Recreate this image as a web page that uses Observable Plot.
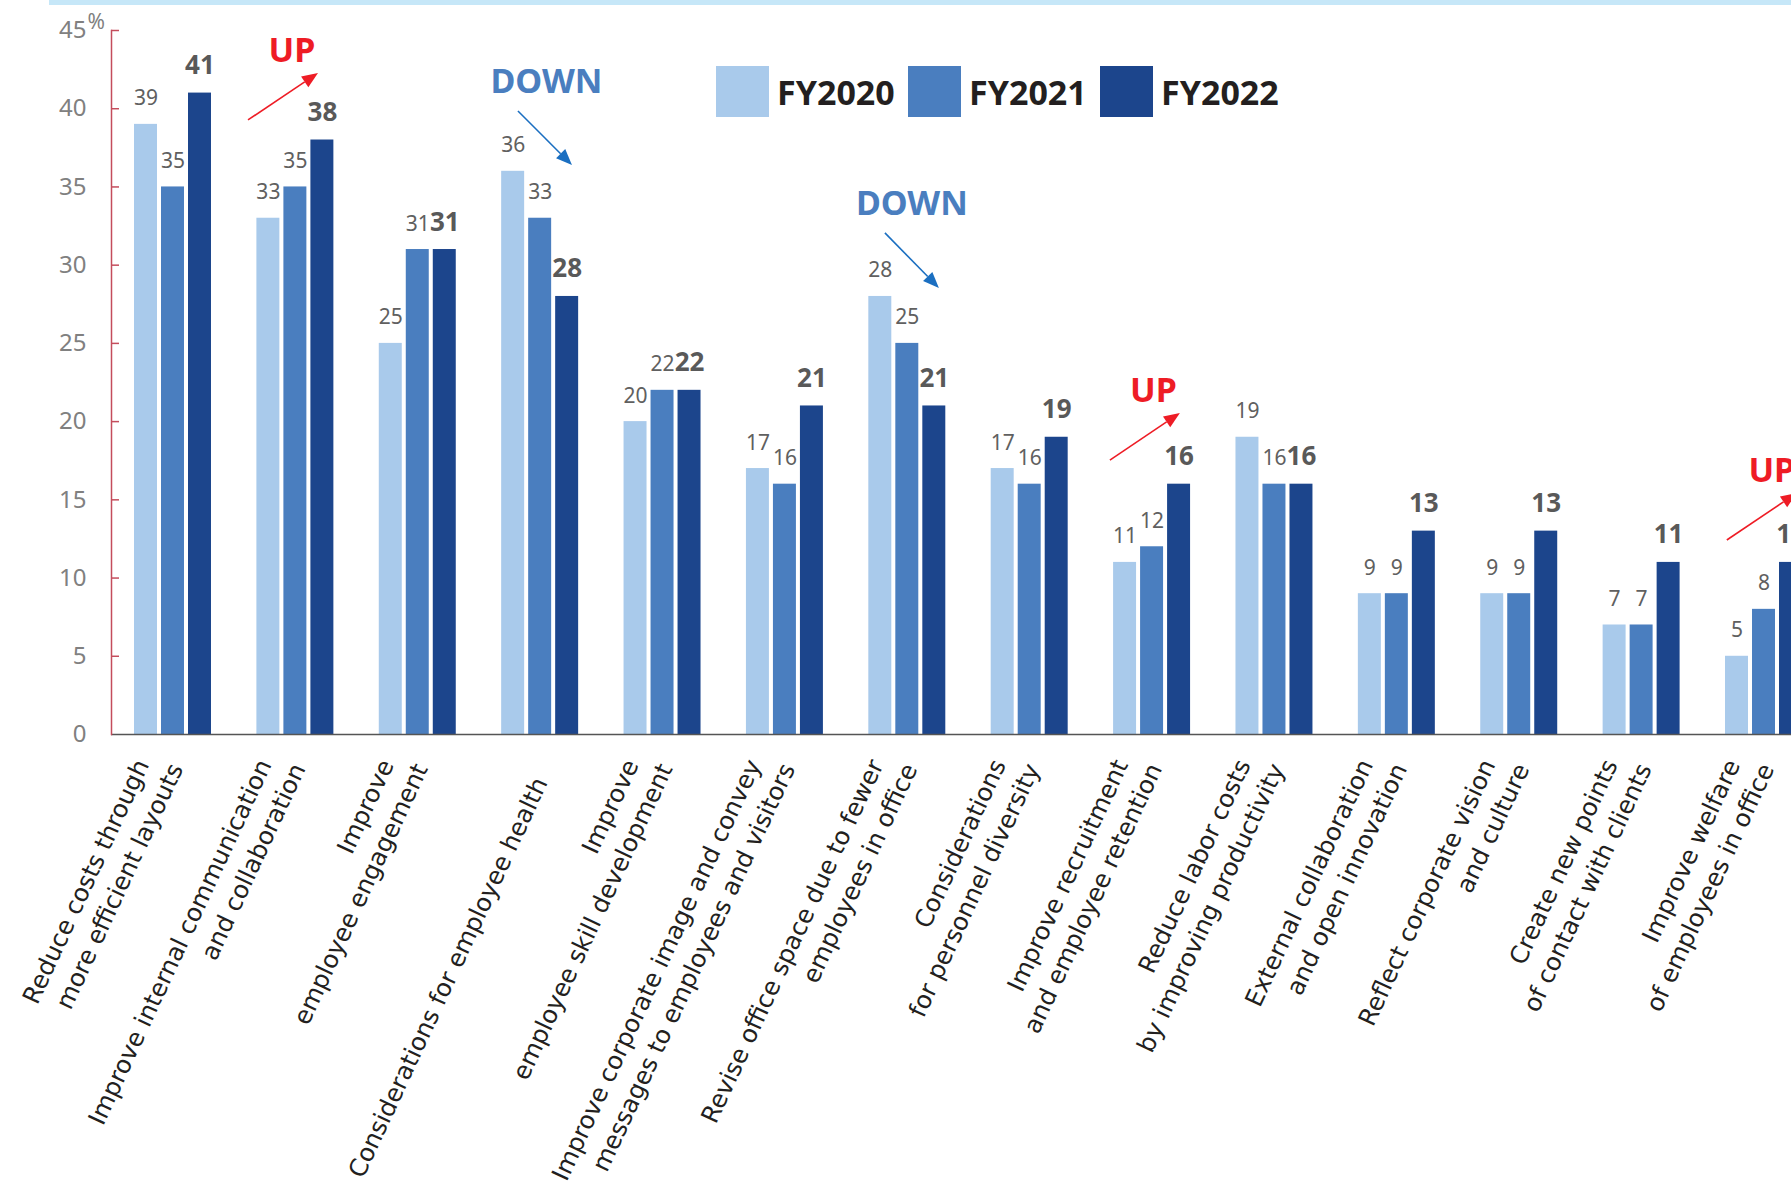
<!DOCTYPE html>
<html>
<head>
<meta charset="utf-8">
<script src="https://cdn.jsdelivr.net/npm/d3@7"></script>
<script src="https://cdn.jsdelivr.net/npm/@observablehq/plot@0.6"></script>
<style>
  html, body { margin: 0; padding: 0; background: #fff; overflow: hidden; }
  #wrap { position: relative; width: 1791px; height: 1188px; overflow: hidden; background: #fff; }
  #chart { position: absolute; left: 0; top: 0; }
  #band { position: absolute; left: 49px; top: 0; width: 1742px; height: 5px; background: #c6e7f8; }
  #legend { position: absolute; left: 716px; top: 66px; display: flex; align-items: center;
            font-family: "Noto Sans", sans-serif; font-weight: 700; font-size: 34px; color: #231f20; }
  #legend .item { display: flex; align-items: center; margin-right: 11px; }
  #legend .sw { width: 53px; height: 51px; margin-right: 8px; }
  #legend .lbl { display: inline-block; width: 120px; white-space: nowrap; }
</style>
</head>
<body>
<div id="wrap">
  <div id="chart"></div>
  <div id="band"></div>
  <div id="legend"></div>
</div>
<script>
// ---- data ----
const categories = [
  "Reduce costs through\nmore efficient layouts",
  "Improve internal communication\nand collaboration",
  "Improve\nemployee engagement",
  "Considerations for employee health",
  "Improve\nemployee skill development",
  "Improve corporate image and convey\nmessages to employees and visitors",
  "Revise office space due to fewer\nemployees in office",
  "Considerations\nfor personnel diversity",
  "Improve recruitment\nand employee retention",
  "Reduce labor costs\nby improving productivity",
  "External collaboration\nand open innovation",
  "Reflect corporate vision\nand culture",
  "Create new points\nof contact with clients",
  "Improve welfare\nof employees in office"
];
const years = ["FY2020", "FY2021", "FY2022"];
const fy2020 = [39, 33, 25, 36, 20, 17, 28, 17, 11, 19, 9, 9, 7, 5];
const fy2021 = [35, 35, 31, 33, 22, 16, 25, 16, 12, 16, 9, 9, 7, 8];
const fy2022 = [41, 38, 31, 28, 22, 21, 21, 19, 16, 16, 13, 13, 11, 11];
const yTicks = [0, 5, 10, 15, 20, 25, 30, 35, 40, 45];

// trend annotations: category index, label, text y (value units), arrow from/to (value units)
const trendCat   = [1, 3, 6, 8, 13];
const trendLabel = ["UP", "DOWN", "DOWN", "UP", "UP"];
const trendTextY = [42.96, 40.97, 33.18, 21.22, 16.11];
const trendY1    = [39.25, 39.82, 32.03, 17.51, 12.40];
const trendY2    = [42.25, 36.37, 28.51, 20.52, 15.41];

// ---- styles ----
const colors = ["#a9caeb", "#4a7ebf", "#1c458c"];
const axisRed = "#c44d5c";
const W = 1791, H = 1188, ML = 111, MT = 30, MB = 454;
// pixel offsets of annotation parts relative to the category band start
const trendTextDx = [35.6, 45.3, 43.6, 40.3, 46.8];
const trendDx1 = [-8.4, 16.8, 16.6, -3.2, 1.8];
const trendDx2 = [61.6, 70.8, 70.6, 66.8, 71.8];

const series = [fy2020, fy2021, fy2022];
const rows = [];
series.forEach((vals, k) => vals.forEach((v, i) => rows.push({cat: categories[i], fy: years[k], k, value: v})));

function trendMark(index, scales) {
  const g = d3.create("svg:g");
  trendCat.forEach((ci, j) => {
    const up = trendLabel[j] === "UP";
    const textColor = up ? "#ee1c25" : "#4a7ebf";
    const arrowColor = up ? "#ee1c25" : "#1b6fc1";
    const x0 = scales.x(categories[ci]);
    g.append("text")
      .attr("x", x0 + trendTextDx[j])
      .attr("y", scales.y(trendTextY[j]))
      .attr("text-anchor", "middle")
      .attr("font-family", "Noto Sans, sans-serif")
      .attr("font-weight", 700)
      .attr("font-size", 34)
      .attr("fill", textColor)
      .text(trendLabel[j]);
    const x1 = x0 + trendDx1[j], y1 = scales.y(trendY1[j]);
    const x2 = x0 + trendDx2[j], y2 = scales.y(trendY2[j]);
    const ang = Math.atan2(y2 - y1, x2 - x1);
    const hl = 16, hw = 6.5;
    const bx = x2 - hl * Math.cos(ang), by = y2 - hl * Math.sin(ang);
    g.append("line")
      .attr("x1", x1).attr("y1", y1).attr("x2", bx).attr("y2", by)
      .attr("stroke", arrowColor).attr("stroke-width", 1.6);
    const px = -Math.sin(ang), py = Math.cos(ang);
    g.append("path")
      .attr("d", `M${x2},${y2}L${bx + px * hw},${by + py * hw}L${bx - px * hw},${by - py * hw}Z`)
      .attr("fill", arrowColor);
  });
  return g.node();
}

const barMarks = [0, 1, 2].map(k => Plot.barY(rows.filter(r => r.k === k), {
  x: "cat", y: "value", fill: "fy",
  insetLeft: k * 27, insetRight: (2 - k) * 27
}));
const valueMarks = [0, 1, 2].map(k => Plot.text(rows.filter(r => r.k === k), {
  x: "cat", y: "value", text: d => String(d.value),
  dx: (k - 1) * 27, dy: -19, lineAnchor: "bottom",
  fontFamily: "Noto Sans", fontSize: k === 2 ? 26 : 21, fontWeight: k === 2 ? "bold" : "normal",
  fill: k === 2 ? "#595959" : "#606060"
}));

// category labels: first line / last line of two-line labels, and single-line labels
const twoLine = categories.filter(c => c.includes("\n"));
const oneLine = categories.filter(c => !c.includes("\n"));
const labelStyle = {rotate: -65, textAnchor: "end", lineAnchor: "bottom",
  fontFamily: "DejaVu Sans", fontSize: 24.5, fill: "#231f20"};
const labelMarks = [
  Plot.text(twoLine, {x: d => d, y: () => 0, text: d => d.split("\n")[0], dx: -23.4, dy: 30, ...labelStyle}),
  Plot.text(twoLine, {x: d => d, y: () => 0, text: d => d.split("\n")[1], dx: 10.6, dy: 34, ...labelStyle}),
  Plot.text(oneLine, {x: d => d, y: () => 0, text: d => d, dx: 8, dy: 48, ...labelStyle})
];

const chart = Plot.plot({
  width: W, height: H,
  marginLeft: ML, marginRight: 0, marginTop: MT, marginBottom: MB,
  style: {background: "transparent"},
  x: {domain: categories, range: [ML, 1825], paddingInner: 0.371, paddingOuter: 0.188, round: false, axis: null},
  y: {domain: [0, 45], axis: null},
  color: {domain: years, range: colors},
  marks: [
    ...barMarks,
    Plot.ruleY([0], {stroke: "#555555", strokeWidth: 1.6}),
    Plot.tickY(yTicks.filter(d => d > 0), {y: d => d, stroke: axisRed, strokeWidth: 1.5, insetRight: W - ML - 8}),
    Plot.frame({anchor: "left", stroke: axisRed, strokeWidth: 1.5}),
    Plot.text(yTicks, {y: d => d, text: d => String(d), frameAnchor: "left", textAnchor: "end",
      dx: -25, fontFamily: "Noto Sans", fontSize: 24, fill: "#808080"}),
    Plot.text([45], {y: d => d, text: () => "%", frameAnchor: "left", textAnchor: "start",
      lineAnchor: "bottom", dx: -24, dy: -2, fontFamily: "Noto Sans", fontSize: 21, fill: "#808080"}),
    ...valueMarks,
    ...labelMarks,
    trendMark
  ]
});
document.getElementById("chart").appendChild(chart);

// legend
const legend = document.getElementById("legend");
years.forEach((y, k) => {
  const item = document.createElement("div");
  item.className = "item";
  const sw = document.createElement("div");
  sw.className = "sw";
  sw.style.background = colors[k];
  const t = document.createElement("span");
  t.className = "lbl";
  t.textContent = y;
  item.appendChild(sw); item.appendChild(t);
  legend.appendChild(item);
});
</script>
</body>
</html>
